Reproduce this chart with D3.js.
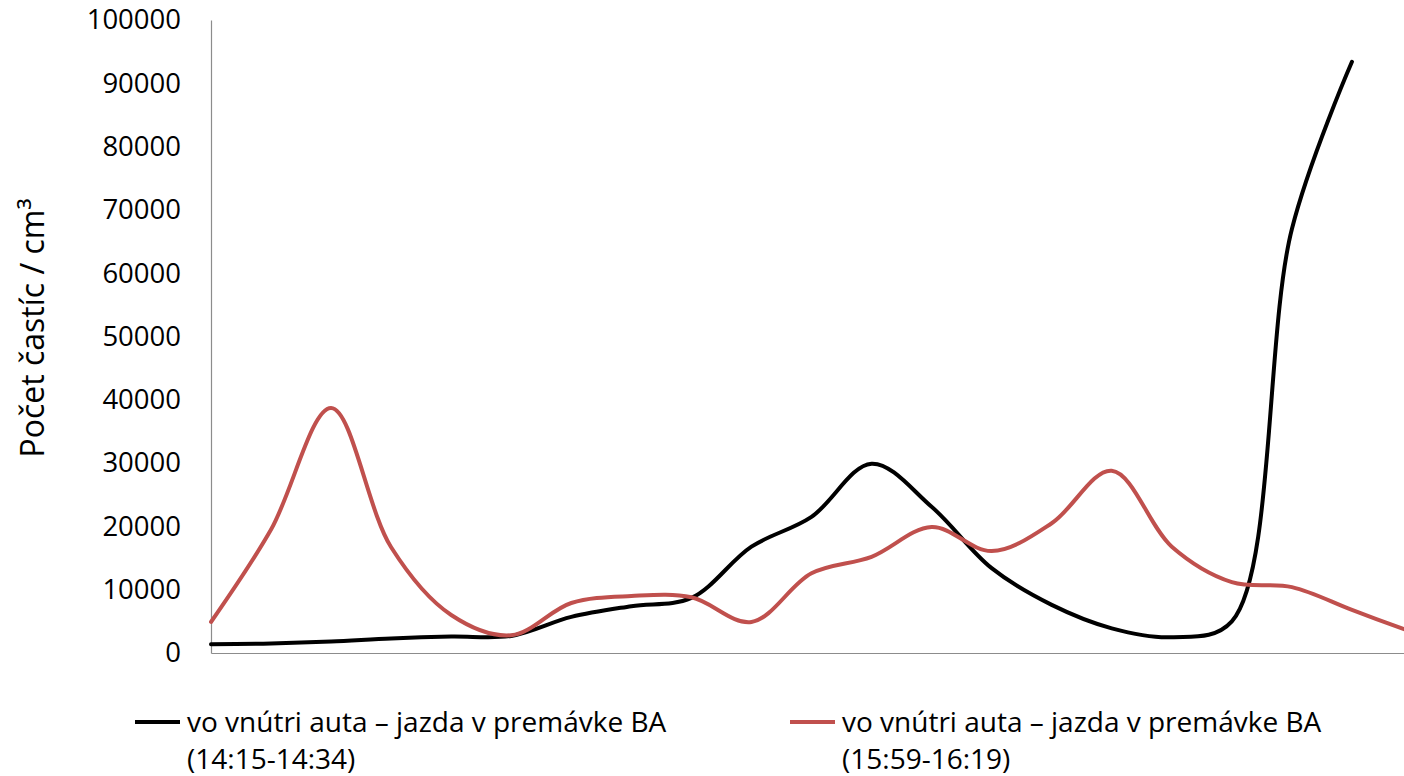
<!DOCTYPE html>
<html>
<head>
<meta charset="utf-8">
<script src="https://cdn.jsdelivr.net/npm/d3@7"></script>
<style>
  body { margin: 0; background: white; }
  text { font-family: "Open Sans", sans-serif; fill: #000; }
</style>
</head>
<body>
<script>
let w = 1404;
let h = 776;

// measurements, one point per step (x axis has no labels)
const blackValues = [1400, 1500, 1800, 2300, 2600, 2700, 5700, 7400, 8700, 16800,
  21500, 29900, 23100, 13400, 7600, 3900, 2500, 5000, 67000, 93400];
const redValues = [4900, 19500, 38700, 16700, 6000, 2800, 7900, 9000, 8800, 4900,
  12600, 15200, 19900, 16100, 20500, 28800, 16800, 11200, 10400, 6800, 3300];
const yTicks = [0, 10000, 20000, 30000, 40000, 50000, 60000, 70000, 80000, 90000, 100000];
const legendLabels = [
  ["vo vnútri auta – jazda v premávke BA", "(14:15-14:34)"],
  ["vo vnútri auta – jazda v premávke BA", "(15:59-16:19)"]
];
const seriesColors = ["#000000", "#C0504D"];

const svg = d3.select('body')
  .append('svg')
  .attr('width', w)
  .attr('height', h)
  .style("background-color", "white");

let x = d3.scaleLinear()
  .domain([0, 20])
  .range([211, 1412]);

let y = d3.scaleLinear()
  .domain([0, 100000])
  .range([653, 20]);

// y axis
const yAxis = svg.append("g")
  .attr("transform", "translate(211,0)")
  .call(d3.axisLeft(y).tickValues(yTicks).tickSize(0).tickPadding(30).tickFormat(d3.format("d")));
yAxis.select(".domain").attr("stroke", "#8c8c8c").attr("stroke-width", 1.2);
yAxis.selectAll("text")
  .style("font-size", "27.5px")
  .style("font-family", "Open Sans");

// x axis, no labels
const xAxis = svg.append("g")
  .attr("transform", "translate(0,653)")
  .call(d3.axisBottom(x).tickValues([]).tickSizeOuter(0));
xAxis.select(".domain").attr("stroke", "#8c8c8c").attr("stroke-width", 1.2);

// axis title
svg.append("text")
  .attr("transform", "translate(44,328) rotate(-90)")
  .attr("text-anchor", "middle")
  .style("font-size", "32px")
  .text("Počet častíc / cm³");

const line = d3.line()
  .x((d, i) => x(i))
  .y(d => y(d))
  .curve(d3.curveCatmullRom.alpha(0.5));

[blackValues, redValues].forEach(function (vals, k) {
  svg.append("path")
    .datum(vals)
    .attr("fill", "none")
    .attr("stroke", seriesColors[k])
    .attr("stroke-width", 4)
    .attr("stroke-linejoin", "round")
    .attr("stroke-linecap", "round")
    .attr("d", line);
});

// legend
const legend = svg.append("g").attr("id", "legend");
const legendX = [135, 790];
legendLabels.forEach(function (lines, k) {
  const g = legend.append("g").attr("transform", `translate(${legendX[k]},0)`);
  g.append("line")
    .attr("x1", 0).attr("x2", 45)
    .attr("y1", 722).attr("y2", 722)
    .attr("stroke", seriesColors[k])
    .attr("stroke-width", 4);
  g.append("text")
    .selectAll("tspan")
    .data(lines)
    .enter()
    .append("tspan")
    .attr("x", 52)
    .attr("y", (d, i) => 732 + i * 37)
    .text(d => d)
    .style("font-size", "28px");
});
</script>
</body>
</html>
